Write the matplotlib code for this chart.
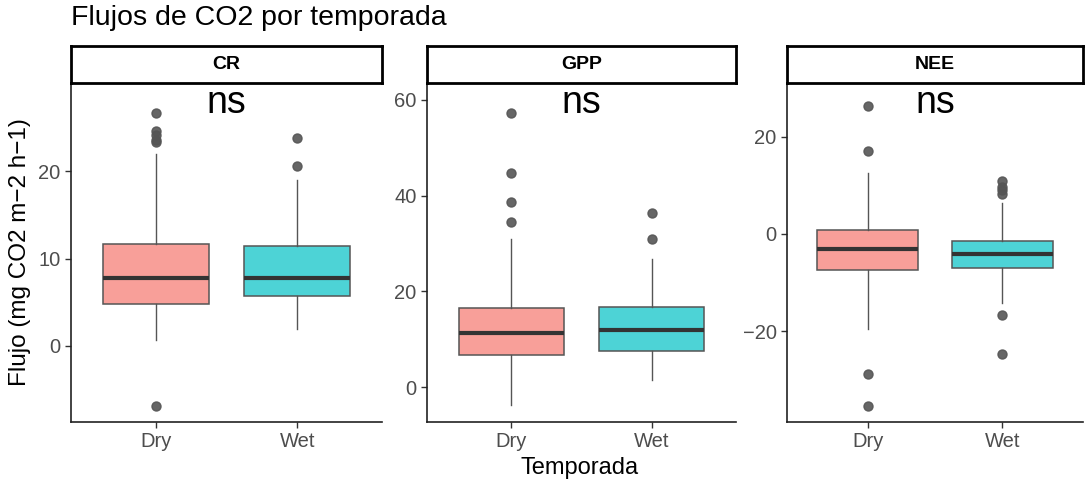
import matplotlib.pyplot as plt

plt.rcParams["font.family"] = ["Liberation Sans", "DejaVu Sans"]

W, H = 1085, 484

groups = ["Dry", "Wet"]
panels = ["CR", "GPP", "NEE"]

# box stats: whislo, q1, med, q3, whishi
cr_dry = [0.7, 4.8, 7.8, 11.65, 22.0]
cr_wet = [2.0, 5.7, 7.8, 11.5, 19.0]
gpp_dry = [-3.7, 6.7, 11.2, 16.5, 30.9]
gpp_wet = [1.5, 7.5, 12.0, 16.8, 26.7]
nee_dry = [-19.5, -7.5, -3.1, 0.7, 12.5]
nee_wet = [-14.2, -7.0, -4.2, -1.5, 6.3]

cr_dry_out = [26.7, 24.6, 24.1, 23.6, 23.3, -6.9]
cr_wet_out = [23.8, 20.6]
gpp_dry_out = [57.2, 44.8, 38.6, 34.4]
gpp_wet_out = [36.4, 31.0]
nee_dry_out = [26.2, 17.1, -28.8, -35.5]
nee_wet_out = [10.75, 9.7, 8.9, 8.15, -16.7, -24.7]

stats = {
    "CR": [(cr_dry, cr_dry_out), (cr_wet, cr_wet_out)],
    "GPP": [(gpp_dry, gpp_dry_out), (gpp_wet, gpp_wet_out)],
    "NEE": [(nee_dry, nee_dry_out), (nee_wet, nee_wet_out)],
}
ylims = {"CR": (-8.7, 30.1), "GPP": (-7.3, 63.5), "NEE": (-38.7, 31.0)}
yticks = {"CR": [0, 10, 20], "GPP": [0, 20, 40, 60], "NEE": [-20, 0, 20]}
ns_y = {"CR": 27.8, "GPP": 59.4, "NEE": 26.9}

fills = ["#F89F99", "#4DD3D6"]

# panel extents in pixels (left, right)
xpix = [(71, 382), (427, 736), (787, 1083)]
top, bottom = 83, 422
strip_top = 46

fig = plt.figure(figsize=(W / 100, H / 100), dpi=100)


def box(l, r, t, b):
    return [l / W, 1 - b / H, (r - l) / W, (b - t) / H]


for name, (l, r) in zip(panels, xpix):
    ax = fig.add_axes(box(l, r, top, bottom))
    bxp_stats = []
    for g, (s, out) in zip(groups, stats[name]):
        bxp_stats.append(dict(label=g, whislo=s[0], q1=s[1], med=s[2],
                              q3=s[3], whishi=s[4], fliers=out))
    parts = ax.bxp(bxp_stats, positions=[1, 2], widths=0.75, patch_artist=True,
                   showcaps=False,
                   boxprops=dict(edgecolor="#555555", linewidth=1.1),
                   whiskerprops=dict(color="#555555", linewidth=1.0),
                   medianprops=dict(color="#333333", linewidth=3.0),
                   flierprops=dict(marker="o", markersize=6.5,
                                   markerfacecolor="#555555",
                                   markeredgecolor="#555555", alpha=0.9))
    for patch, c in zip(parts["boxes"], fills):
        patch.set_facecolor(c)
    ax.set_xlim(0.4, 2.6)
    ax.set_ylim(*ylims[name])
    ax.set_yticks(yticks[name])
    ax.set_xticks([1, 2], groups)
    for sp in ["top", "right"]:
        ax.spines[sp].set_visible(False)
    for sp in ["left", "bottom"]:
        ax.spines[sp].set_color("#222222")
        ax.spines[sp].set_linewidth(1.2)
    ax.tick_params(colors="#333333", labelcolor="#4D4D4D", labelsize=14.5,
                   length=4, width=1)
    ax.text(1.5, ns_y[name], "ns", ha="center", va="center", fontsize=27)

    sax = fig.add_axes(box(l, r, strip_top, top))
    sax.set_xticks([])
    sax.set_yticks([])
    for sp in sax.spines.values():
        sp.set_linewidth(2)
        sp.set_color("black")
    sax.text(0.5, 0.5, name, ha="center", va="center", fontsize=14,
             fontweight="bold", transform=sax.transAxes)

fig.text(71 / W, 1 - 18 / H, "Flujos de CO2 por temporada", fontsize=20.5,
         ha="left", va="center")
fig.text(20 / W, 1 - 252 / H, "Flujo (mg CO2 m\u22122 h\u22121)", fontsize=17.5,
         rotation=90, ha="center", va="center")
fig.text(580 / W, 1 - 468 / H, "Temporada", fontsize=17, ha="center",
         va="center")

fig.savefig("out.png", dpi=100)
